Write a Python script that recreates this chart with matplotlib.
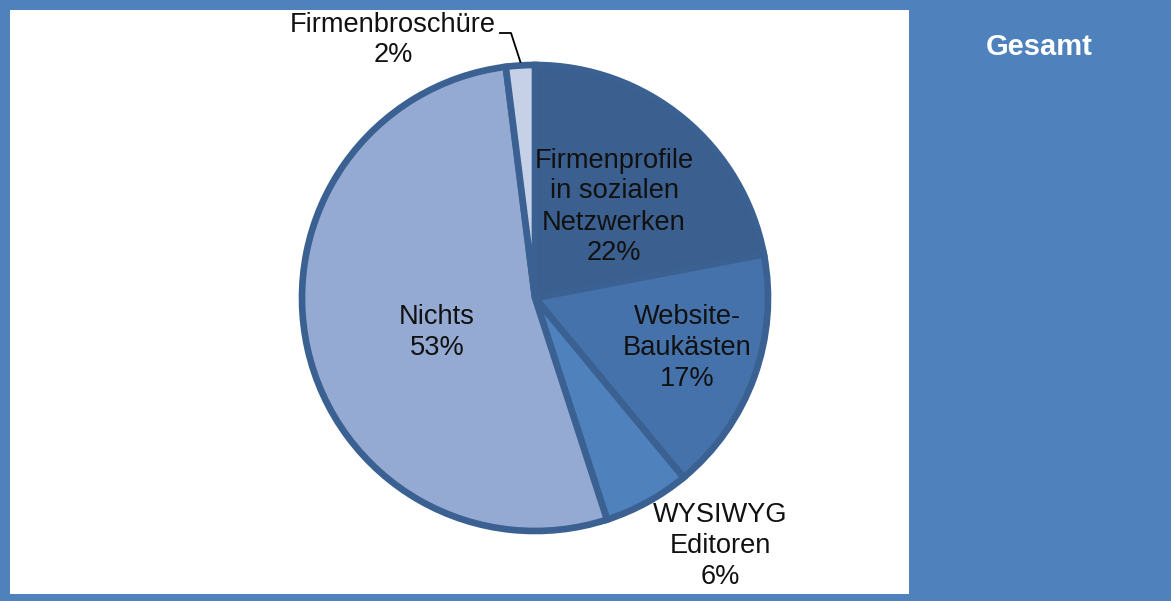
import numpy as np
import matplotlib
matplotlib.use("Agg")
import matplotlib.pyplot as plt
from matplotlib.patches import Rectangle

plt.rcParams["font.family"] = ["Liberation Sans", "DejaVu Sans"]

# ---------------------------------------------------------------------------
labels = ["Firmenprofile\nin sozialen\nNetzwerken", "Website-\nBaukästen",
          "WYSIWYG\nEditoren", "Nichts", "Firmenbroschüre"]
values = [22, 17, 6, 53, 2]
colors = ["#3B5F8E", "#4572AA", "#4F81BD", "#95AAD2", "#C6D1E7"]
title = "Gesamt"

BLUE = "#4F81BD"
EDGE = "#3A6191"
W, H = 1171, 601

# label centres in pixel coords of the picture (x, y from top)
label_px = [(614, 207), (687, 348), (720, 546), (437, 333), (393, 40)]


def fx(px):
    return px / W


def fy(py):
    return 1 - py / H


fig = plt.figure(figsize=(W / 100, H / 100), dpi=100)
fig.patch.set_facecolor(BLUE)
fig.add_artist(Rectangle((fx(10), fy(594)), fx(909) - fx(10), fy(10) - fy(594),
                         transform=fig.transFigure, facecolor="white",
                         edgecolor="none", zorder=0))
fig.text(fx(1039), fy(47), title, color="white", fontsize=21, fontweight="bold",
         ha="center", va="center")

# pie axes: centre (535, 298) px, radius 233 px
cx, cy, r = 535, 298, 233
ax = fig.add_axes([fx(cx - r), fy(cy + r), 2 * r / W, 2 * r / H])
wedges, _ = ax.pie(values, colors=colors, startangle=90, counterclock=False,
                   radius=1, wedgeprops=dict(edgecolor=EDGE, linewidth=4.8))
ax.set_xlim(-1, 1)
ax.set_ylim(-1, 1)
ax.set_aspect("auto")
ax.axis("off")

for lab, v, (px, py) in zip(labels, values, label_px):
    fig.text(fx(px), fy(py), f"{lab}\n{v}%", fontsize=19.6, color="#111111",
             ha="center", va="center", linespacing=1.25)

# leader line for the small slice
w = wedges[-1]
ang = np.deg2rad((w.theta1 + w.theta2) / 2)
x0, y0 = fx(cx + r * np.cos(ang)), fy(cy - r * np.sin(ang))
fig.add_artist(plt.Line2D([x0, fx(511), fx(500)], [y0 + 0.006, fy(33), fy(33)],
                          transform=fig.transFigure, color="black", lw=1.3))

fig.savefig("out.png", dpi=100, facecolor=fig.get_facecolor())
